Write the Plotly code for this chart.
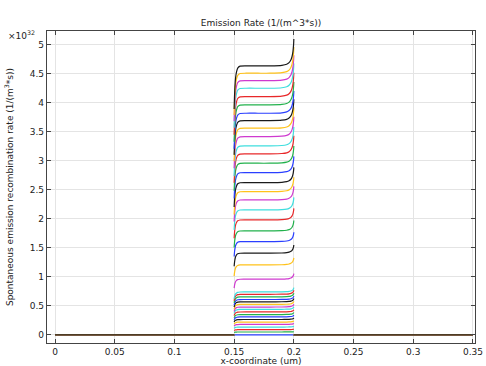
import plotly.graph_objects as go

# Plateau levels (x1e32) of each curve, lowest first
plateau_levels = [
    0.0,
    0.05, 0.09, 0.135, 0.18, 0.22, 0.265, 0.31, 0.35, 0.395, 0.44, 0.48,
    0.525, 0.57, 0.61, 0.655, 0.70, 0.74,
    0.96, 1.207, 1.409, 1.609, 1.793, 1.983, 2.155, 2.328, 2.471, 2.626,
    2.798, 2.960, 3.121, 3.259, 3.419, 3.564, 3.695, 3.822, 3.966, 4.109,
    4.253, 4.384, 4.512, 4.638,
]

# Normalised profile of a curve inside the active region
profile_x = [0.15, 0.1503, 0.1507, 0.1512, 0.152, 0.153, 0.155, 0.16, 0.17,
             0.18, 0.19, 0.194, 0.196, 0.1975, 0.1985, 0.1993, 0.1998, 0.2]
profile_f = [0.84, 0.885, 0.925, 0.955, 0.978, 0.992, 0.999, 1.0, 1.0,
             1.0, 1.002, 1.006, 1.012, 1.022, 1.035, 1.055, 1.08, 1.10]

outer_left_x = [0.0, 0.15]
outer_right_x = [0.2, 0.35]

x_ticks = [0, 0.05, 0.1, 0.15, 0.2, 0.25, 0.3, 0.35]
x_tick_labels = ["0", "0.05", "0.1", "0.15", "0.2", "0.25", "0.3", "0.35"]
y_ticks = [0, 0.5, 1, 1.5, 2, 2.5, 3, 3.5, 4, 4.5, 5]
y_tick_labels = ["0", "0.5", "1", "1.5", "2", "2.5", "3", "3.5", "4", "4.5", "5"]

colors = ["#2a3fff", "#22b14c", "#e8282a", "#3fdede", "#cf3acf", "#ffc21a", "#1a1a1a"]

fig = go.Figure()
for i, p in enumerate(plateau_levels):
    c = colors[i % len(colors)]
    xs = outer_left_x + [None] + profile_x + [None] + outer_right_x
    ys = [0, 0] + [None] + [p * f for f in profile_f] + [None] + [0, 0]
    fig.add_trace(go.Scatter(x=xs, y=ys, mode="lines",
                             line=dict(color=c, width=1.2, shape="spline", smoothing=0.6),
                             connectgaps=False, showlegend=False, hoverinfo="skip"))

font = "DejaVu Sans, sans-serif"
axis_common = dict(showline=True, linecolor="#444", linewidth=1.2, mirror="allticks",
                   ticks="inside", ticklen=4, tickcolor="#444", showgrid=True,
                   gridcolor="#e4e4e4", gridwidth=1, zeroline=False, automargin=False,
                   tickfont=dict(family=font, size=9, color="#222"))

fig.update_layout(
    width=486, height=366,
    margin=dict(l=47, r=11, t=31, b=23),
    paper_bgcolor="white", plot_bgcolor="white",
    title=dict(text="Emission Rate (1/(m^3*s))", x=0.537, xanchor="center",
               y=0.937, yanchor="middle", font=dict(family=font, size=9, color="#222")),
    xaxis=dict(range=[-0.0067, 0.3517], tickvals=x_ticks, ticktext=x_tick_labels,
               title=dict(text="x-coordinate (um)", standoff=0,
                          font=dict(family=font, size=9, color="#222")),
               **axis_common),
    yaxis=dict(range=[-0.14, 5.24], tickvals=y_ticks, ticktext=y_tick_labels,
               title=dict(text="Spontaneous emission recombination rate (1/(m<sup>3</sup>*s))",
                          standoff=14, font=dict(family=font, size=9, color="#222")),
               **axis_common),
    annotations=[dict(text="×10<sup>32</sup>", xref="paper", yref="paper",
                      x=-0.023, y=1.012, xanchor="right", yanchor="top",
                      showarrow=False, font=dict(family=font, size=9, color="#222"))],
)

fig.write_html("out.html", config={"displayModeBar": False},
               post_script="document.body.style.margin='0';document.body.style.padding='0';")
